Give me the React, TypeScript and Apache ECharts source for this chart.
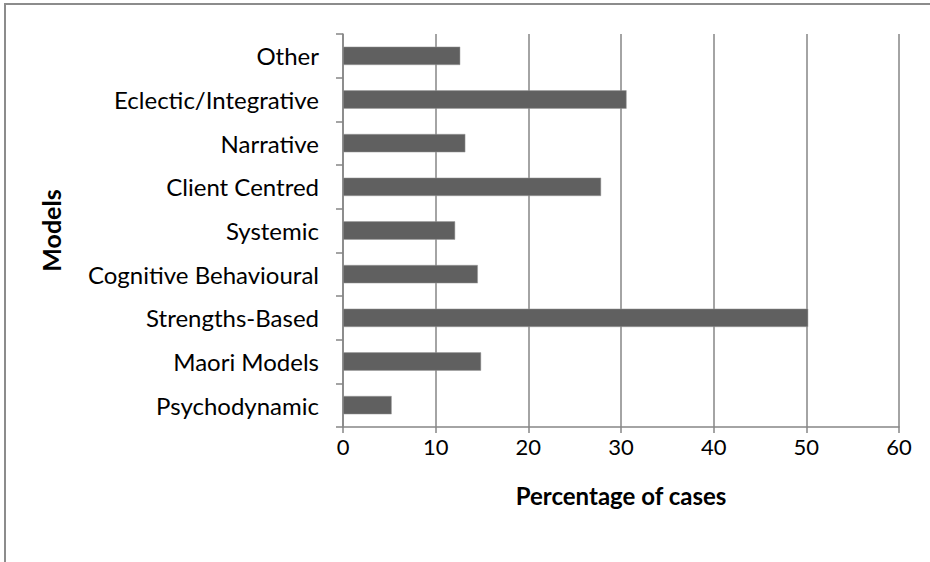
import React, { useEffect, useRef } from "react";
import * as echarts from "echarts";

const categories = [
  "Psychodynamic",
  "Maori Models",
  "Strengths-Based",
  "Cognitive Behavioural",
  "Systemic",
  "Client Centred",
  "Narrative",
  "Eclectic/Integrative",
  "Other",
];
const values = [5.25, 14.9, 50.2, 14.55, 12.1, 27.85, 13.2, 30.6, 12.65];
const xTicks = { min: 0, max: 60, interval: 10 };
const xTitle = "Percentage of cases";
const yTitle = "Models";

const FONT = "Lato, 'Open Sans', sans-serif";

export default function App() {
  const ref = useRef<HTMLDivElement>(null);
  useEffect(() => {
    if (!ref.current) return;
    const chart = echarts.init(ref.current, undefined, { renderer: "svg" });
    chart.setOption({
      animation: false,
      backgroundColor: "#ffffff",
      graphic: [
        {
          type: "rect",
          shape: { x: 5, y: 4, width: 940, height: 580 },
          style: { fill: "none", stroke: "#8c8c8c", lineWidth: 2 },
          silent: true,
        },
      ],
      grid: { left: 343, right: 31, top: 34, bottom: 135, containLabel: false },
      xAxis: {
        type: "value",
        min: xTicks.min,
        max: xTicks.max,
        interval: xTicks.interval,
        name: xTitle,
        nameLocation: "middle",
        nameGap: 56,
        nameTextStyle: { fontFamily: FONT, fontWeight: "bold", fontSize: 24, color: "#000" },
        axisLine: { show: true, lineStyle: { color: "#868686", width: 1.5 } },
        axisTick: { show: true, length: 6, lineStyle: { color: "#868686", width: 1.5 } },
        axisLabel: { fontFamily: FONT, fontSize: 22, color: "#000", margin: 8 },
        splitLine: { show: true, lineStyle: { color: "#868686", width: 1.5 } },
      },
      yAxis: {
        type: "category",
        data: categories,
        name: yTitle,
        nameLocation: "middle",
        nameGap: 280,
        nameRotate: 90,
        nameTextStyle: { fontFamily: FONT, fontWeight: "bold", fontSize: 25, color: "#000" },
        axisLine: { show: true, lineStyle: { color: "#868686", width: 1.5 } },
        axisTick: { show: true, length: 7, lineStyle: { color: "#868686", width: 1.5 } },
        axisLabel: { fontFamily: FONT, fontSize: 24, color: "#000", margin: 24 },
        splitLine: { show: false },
      },
      series: [
        {
          type: "bar",
          data: values,
          barWidth: "42%",
          itemStyle: { color: "#606060", borderColor: "#9a9a9a", borderWidth: 0.5 },
        },
      ],
    });
    return () => chart.dispose();
  }, []);
  return <div ref={ref} style={{ width: 930, height: 562, position: "fixed", left: 0, top: 0 }} />;
}
